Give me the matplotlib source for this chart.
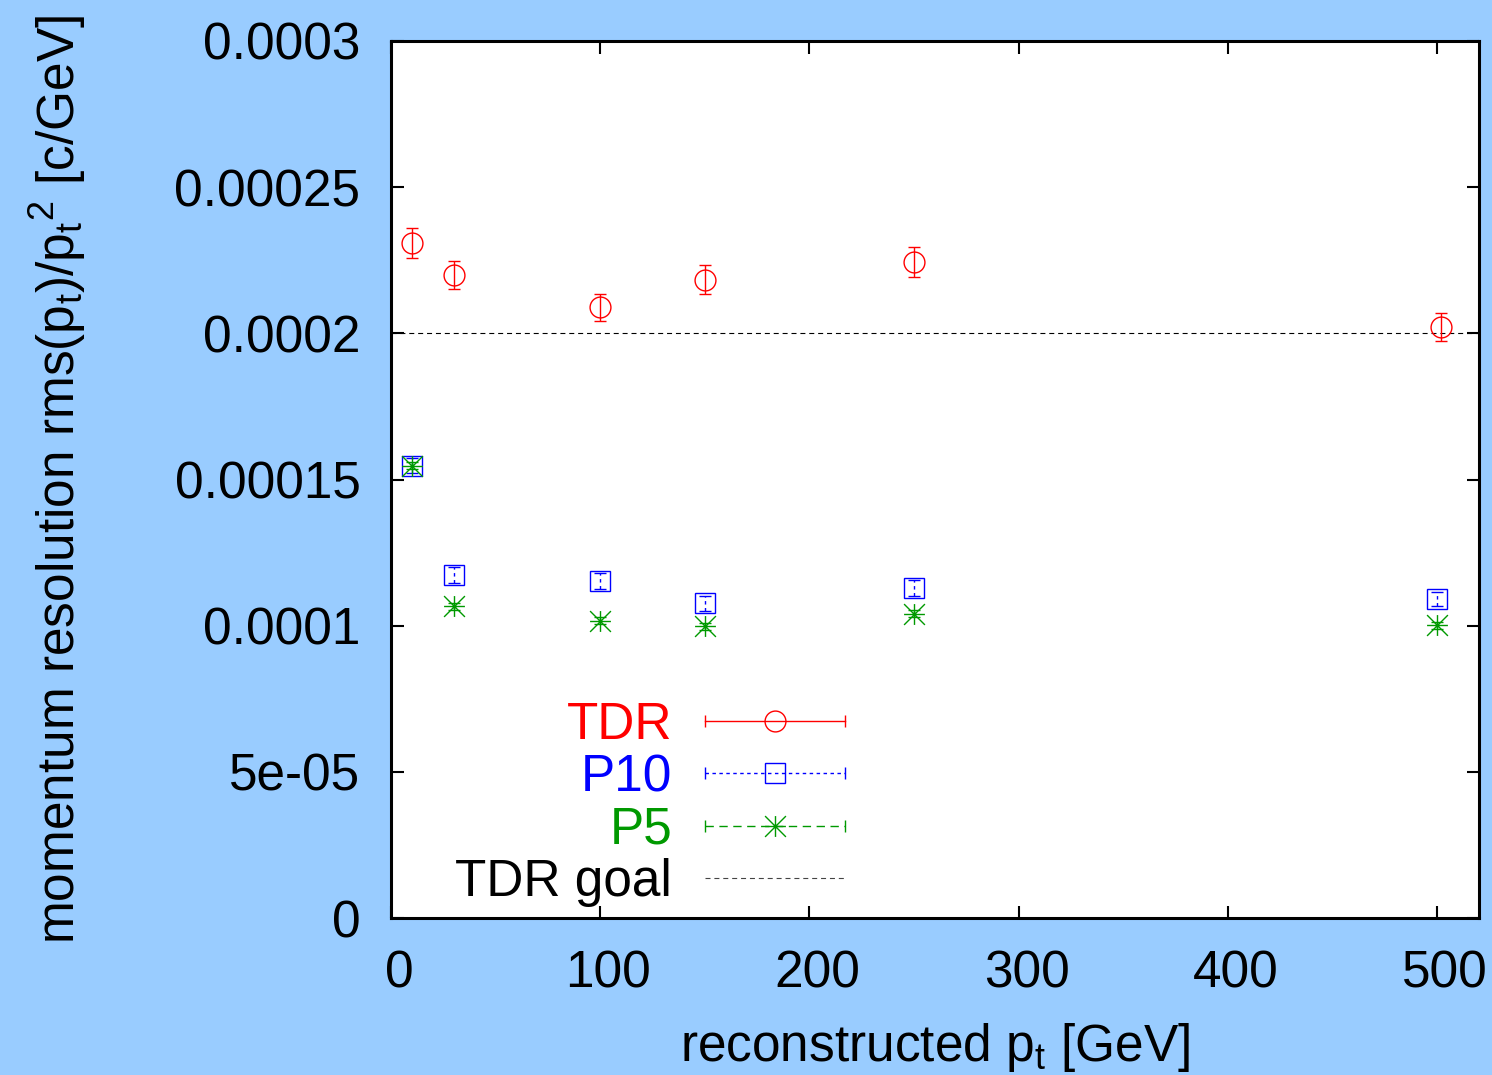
import matplotlib
matplotlib.use("Agg")
import matplotlib.pyplot as plt
from matplotlib.lines import Line2D
from matplotlib.path import Path
from matplotlib.legend_handler import HandlerBase
from matplotlib.ticker import FixedLocator, FixedFormatter
import matplotlib.transforms as mtransforms

# ---------------- data ----------------
x_tdr = [10, 30, 100, 150, 250, 502]
y_tdr = [2.308e-4, 2.200e-4, 2.089e-4, 2.184e-4, 2.245e-4, 2.023e-4]
e_tdr = [5.1e-6, 4.9e-6, 4.6e-6, 4.9e-6, 5.1e-6, 4.8e-6]

x_p10 = [10, 30, 100, 150, 250, 500]
y_p10 = [1.547e-4, 1.172e-4, 1.153e-4, 1.077e-4, 1.129e-4, 1.092e-4]
e_p10 = [2.5e-6, 2.7e-6, 2.7e-6, 2.6e-6, 2.7e-6, 2.4e-6]

x_p5 = [10, 30, 100, 150, 250, 500]
y_p5 = [1.547e-4, 1.066e-4, 1.016e-4, 0.998e-4, 1.041e-4, 1.001e-4]
e_p5 = [1.2e-6, 1.2e-6, 1.2e-6, 1.2e-6, 1.2e-6, 1.2e-6]

tdr_goal = 2.0e-4

x_ticks = [0, 100, 200, 300, 400, 500]
x_ticklabels = ["0", "100", "200", "300", "400", "500"]
y_ticks = [0, 5e-5, 1e-4, 1.5e-4, 2e-4, 2.5e-4, 3e-4]
y_ticklabels = ["0", "5e-05", "0.0001", "0.00015", "0.0002", "0.00025", "0.0003"]

labels = ["TDR", "P10", "P5", "TDR goal"]
xlabel = r"reconstructed p$_t$ [GeV]"
ylabel = r"momentum resolution rms(p$_t$)/p$_t$$^2$ [c/GeV]"

# ---------------- style ----------------
plt.rcParams["font.family"] = ["Liberation Sans", "DejaVu Sans"]
plt.rcParams["mathtext.fontset"] = "custom"
plt.rcParams["mathtext.rm"] = "Liberation Sans"
plt.rcParams["mathtext.it"] = "Liberation Sans"
plt.rcParams["mathtext.default"] = "regular"

BG = "#99ccff"
RED = "#ff0000"
BLUE = "#0000ff"
GREEN = "#009900"
FS = 37

# gnuplot style asterisk (+ and x)
star = Path([(-1, 0), (1, 0), (0, -1), (0, 1), (-1, -1), (1, 1), (-1, 1), (1, -1)],
            [Path.MOVETO, Path.LINETO] * 4)

fig = plt.figure(figsize=(14.92, 10.75), dpi=100, facecolor=BG)
ax = fig.add_axes([391 / 1492, 1 - 918 / 1075, 1088 / 1492, 877 / 1075])
ax.set_facecolor("white")

ax.axhline(tdr_goal, color="black", lw=0.8, dashes=(4.5, 3.5), zorder=1)

series = [
    (x_tdr, y_tdr, e_tdr, RED, "o", "-", 15),
    (x_p10, y_p10, e_p10, BLUE, "s", (0, (2.5, 2.5)), 14.5),
    (x_p5, y_p5, e_p5, GREEN, star, (0, (6, 4)), 15),
]
for xs, ys, es, col, mk, ls, ms in series:
    eb = ax.errorbar(xs, ys, yerr=es, fmt="none", ecolor=col, elinewidth=1.0,
                     capsize=4.5, capthick=1.0, zorder=3)
    for lc in eb[2]:
        lc.set_linestyle(ls)
    ax.plot(xs, ys, linestyle="none", marker=mk, markersize=ms,
            markerfacecolor="none", markeredgecolor=col, markeredgewidth=1.0, zorder=4)

ax.set_xlim(0, 520)
ax.set_ylim(0, 3e-4)
ax.xaxis.set_major_locator(FixedLocator(x_ticks))
ax.xaxis.set_major_formatter(FixedFormatter(x_ticklabels))
ax.yaxis.set_major_locator(FixedLocator(y_ticks))
ax.yaxis.set_major_formatter(FixedFormatter(y_ticklabels))
ax.tick_params(direction="in", length=9, width=1.5, labelsize=FS,
               top=True, right=True)
ax.tick_params(axis="x", pad=23)
ax.tick_params(axis="y", pad=22)
for sp in ax.spines.values():
    sp.set_linewidth(2.2)
off = mtransforms.ScaledTranslation(8 / 100, 0, fig.dpi_scale_trans)
for lab in ax.get_xticklabels():
    lab.set_transform(lab.get_transform() + off)

ax.set_xlabel(xlabel, fontsize=FS, labelpad=16)
ax.set_ylabel(ylabel, fontsize=FS, labelpad=62)


# ---------------- legend (gnuplot style) ----------------
class GPHandler(HandlerBase):
    def __init__(self, caps=True, **kw):
        super().__init__(**kw)
        self.caps = caps

    def create_artists(self, legend, orig, xdescent, ydescent, width, height,
                       fontsize, trans):
        x0, x1 = -xdescent, -xdescent + width
        y = (height - ydescent) / 2
        line = Line2D([x0, x1], [y, y])
        line.update_from(orig)
        line.set_marker("None")
        line.set_transform(trans)
        arts = [line]
        if self.caps:
            caps = Line2D([x0, x1], [y, y], linestyle="none", marker="|",
                          markersize=9, markeredgewidth=1.0,
                          color=orig.get_color(), transform=trans)
            arts.append(caps)
        if orig.get_marker() not in (None, "None", "none", ""):
            m = Line2D([(x0 + x1) / 2], [y], linestyle="none",
                       marker=orig.get_marker(),
                       markersize=orig.get_markersize(),
                       markerfacecolor="none",
                       markeredgecolor=orig.get_color(),
                       markeredgewidth=1.0, transform=trans)
            arts.append(m)
        return arts


h_tdr = Line2D([], [], color=RED, lw=1.0, ls="-", marker="o", markersize=15)
h_p10 = Line2D([], [], color=BLUE, lw=1.0, ls=(0, (2.5, 2.5)), marker="s", markersize=14.5)
h_p5 = Line2D([], [], color=GREEN, lw=1.0, ls=(0, (6, 4)), marker=star, markersize=15)
h_goal = Line2D([], [], color="#444444", lw=0.8, dashes=(4.5, 3.5))

leg = ax.legend([h_tdr, h_p10, h_p5, h_goal], labels,
                handler_map={h_tdr: GPHandler(True), h_p10: GPHandler(True),
                             h_p5: GPHandler(True), h_goal: GPHandler(False)},
                markerfirst=False, frameon=False, fontsize=FS,
                handlelength=2.72, handletextpad=0.64, labelspacing=0.06,
                borderpad=0, borderaxespad=0,
                loc="center right", bbox_to_anchor=(0.4173, 0.130))
for t, c in zip(leg.get_texts(), [RED, BLUE, GREEN, "black"]):
    t.set_color(c)

fig.savefig("out.png", dpi=100, facecolor=BG)
